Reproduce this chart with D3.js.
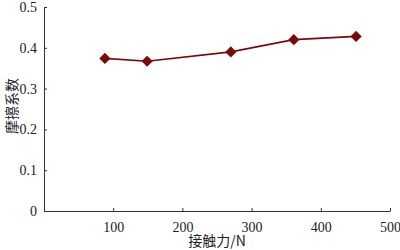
<!DOCTYPE html>
<html>
<head>
<meta charset="utf-8">
<script src="https://cdn.jsdelivr.net/npm/d3@7"></script>
<style>
	body { margin: 0; background: #fff; }
	.axis text { font-family: "Liberation Serif", "Times New Roman", serif; font-size: 14px; fill: #222; }
	.axis path, .axis line { stroke: #333; }
	.label { font-family: "Noto Sans CJK SC", "Liberation Serif", serif; font-size: 14px; fill: #222; }
</style>
</head>
<body>
<svg id="chart" width="400" height="250"></svg>
<script>
// contact force (N) and friction coefficient
let forces = [88, 149, 270, 361, 451];
let friction = [0.374, 0.367, 0.390, 0.420, 0.428];
let xTicks = [100, 200, 300, 400, 500];
let yTicks = [0, 0.1, 0.2, 0.3, 0.4, 0.5];

let svg = d3.select("#chart");
let margin = { top: 7, right: 10, bottom: 39, left: 44 };
let width = 400 - margin.left - margin.right;
let height = 250 - margin.top - margin.bottom;

let x = d3.scaleLinear().domain([0, 500]).range([0, width]);
let y = d3.scaleLinear().domain([0, 0.5]).range([height, 0]);

let g = svg.append("g")
	.attr("transform", "translate(" + margin.left + "," + margin.top + ")");

g.append("g")
	.attr("class", "axis axis--x")
	.attr("transform", "translate(0," + height + ")")
	.call(d3.axisBottom(x).tickValues(xTicks).tickSizeInner(-3).tickSizeOuter(0).tickPadding(8))
	.call(a => a.selectAll("text").attr("dy", "0.9em"));

g.append("g")
	.attr("class", "axis axis--y")
	.call(d3.axisLeft(y).tickValues(yTicks).tickSizeInner(-3).tickSizeOuter(0).tickPadding(7)
		.tickFormat(d => d === 0 ? "0" : d3.format(".1f")(d)));

let line = d3.line()
	.x((d, i) => x(forces[i]))
	.y(d => y(d));

g.append("path")
	.datum(friction)
	.attr("fill", "none")
	.attr("stroke", "#7a0a0a")
	.attr("stroke-width", 1.6)
	.attr("d", line);

g.selectAll(".pt")
	.data(friction)
	.enter()
	.append("path")
	.attr("class", "pt")
	.attr("d", d3.symbol().type(d3.symbolDiamond2).size(80))
	.attr("transform", (d, i) => "translate(" + x(forces[i]) + "," + y(d) + ")")
	.attr("fill", "#7a0a0a");

svg.append("text")
	.attr("class", "label")
	.attr("x", margin.left + x(250))
	.attr("y", 246)
	.attr("text-anchor", "middle")
	.text("接触力/N");

svg.append("text")
	.attr("class", "label")
	.attr("transform", "translate(17," + (margin.top + y(0.25) - 3) + ") rotate(-90)")
	.attr("text-anchor", "middle")
	.text("摩擦系数");
</script>
</body>
</html>
